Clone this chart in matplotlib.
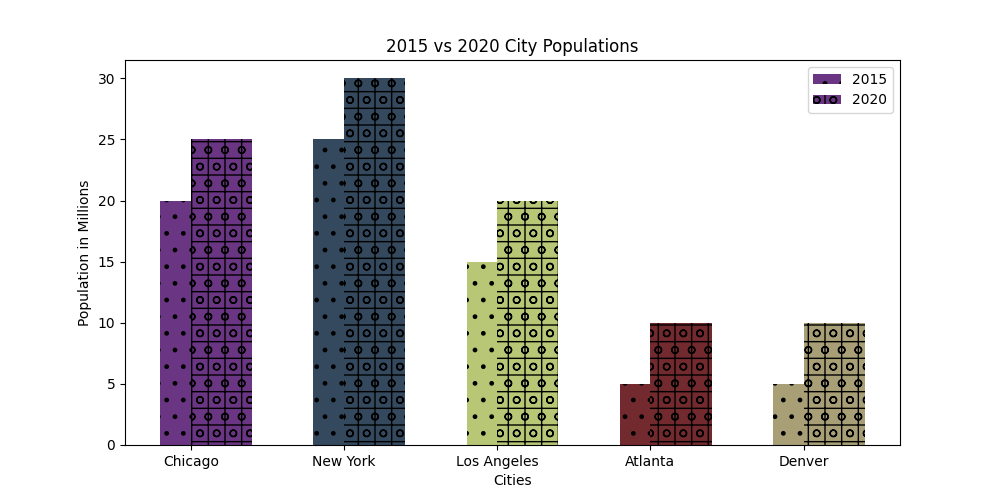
import matplotlib
matplotlib.use("Agg")
import matplotlib.pyplot as plt
import numpy as np

cities = ["Chicago", "New York", "Los Angeles", "Atlanta", "Denver"]
pop_2015 = [20, 25, 15, 5, 5]
pop_2020 = [25, 30, 20, 10, 10]
colors = ["#6a3583", "#34495e", "#b8c775", "#722a2e", "#a89f77"]

fig, ax = plt.subplots(figsize=(10, 5), dpi=100)
x = np.arange(len(cities))
w = 0.4
ax.bar(x, pop_2015, w, color=colors, hatch='.', edgecolor='black', linewidth=0, label='2015')
ax.bar(x + 0.2, pop_2020, w, color=colors, hatch='o+', edgecolor='black', linewidth=0, label='2020')
ax.set_xticks(x)
ax.set_xticklabels(cities)
ax.set_xlabel("Cities")
ax.set_ylabel("Population in Millions")
ax.set_title("2015 vs 2020 City Populations")
ax.legend()
fig.savefig("out.png")
